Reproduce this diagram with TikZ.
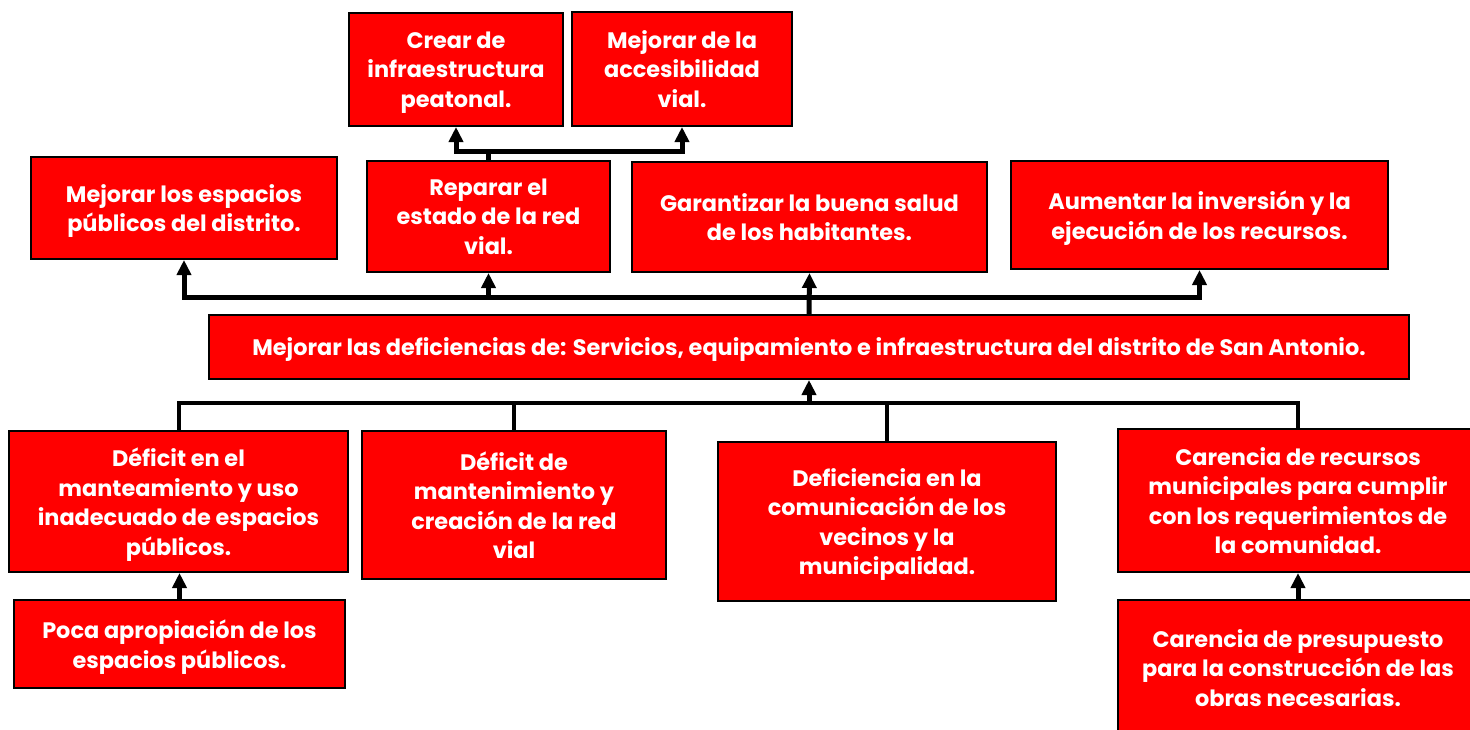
\documentclass[tikz,border=0pt]{standalone}
\usepackage{fontspec}
\setmainfont{Poppins}
\usetikzlibrary{arrows.meta}

\begin{document}
\begin{tikzpicture}[x=1pt,y=-1pt]
    \tikzset{box/.style={draw=black, line width=2pt, fill=red, text=white, align=center,
            font=\fontsize{22.4}{29.5}\selectfont\bfseries, inner sep=0pt, text depth=0pt},
        bus/.style={line width=5pt},
        arr/.style={bus, -{Triangle[width=14pt,length=15pt]}}}

    \useasboundingbox (0,0) rectangle (1470,729);

    % efectos
    \node[box, minimum width=214, minimum height=113] (crear) at (456,69.5) {Crear de\\infraestructura\\peatonal.};
    \node[box, minimum width=220, minimum height=114] (acces) at (682,69) {Mejorar de la\\accesibilidad\\vial.};
    \node[box, minimum width=306, minimum height=102] (espacios) at (184,208) {Mejorar los espacios\\públicos del distrito.};
    \node[box, minimum width=243, minimum height=111] (reparar) at (488.5,216.5) {Reparar el\\estado de la red\\vial.};
    \node[box, minimum width=355, minimum height=110] (salud) at (809.5,217) {Garantizar la buena salud\\de los habitantes.};
    \node[box, minimum width=377, minimum height=108] (inversion) at (1199.5,215) {Aumentar la inversión y la\\ejecución de los recursos.};

    % problema central
    \node[box, minimum width=1200, minimum height=64] (central) at (809,347) {Mejorar las deficiencias de: Servicios, equipamiento e infraestructura del distrito de San Antonio.};

    % causas
    \node[box, minimum width=339, minimum height=141] (manteam) at (178.5,501.5) {Déficit en el\\manteamiento y uso\\inadecuado de espacios\\públicos.};
    \node[box, minimum width=304, minimum height=148] (redvial) at (514,505) {Déficit de\\mantenimiento y\\creación de la red\\vial};
    \node[box, minimum width=338, minimum height=159] (comunic) at (887,521.5) {Deficiencia en la\\comunicación de los\\vecinos y la\\municipalidad.};
    \node[box, minimum width=360, minimum height=143] (recursos) at (1298,500.5) {Carencia de recursos\\municipales para cumplir\\con los requerimientos de\\la comunidad.};
    \node[box, minimum width=331, minimum height=88] (poca) at (179.5,644) {Poca apropiación de los\\espacios públicos.};
    \node[box, minimum width=360, minimum height=136] (presup) at (1298,668) {Carencia de presupuesto\\para la construcción de las\\obras necesarias.};

    \coordinate (topbus) at (809,297);
    \coordinate (lowbus) at (809,403);

    % conectores
    \draw[bus] (reparar.north) -- ++(0,-9) coordinate (vialbus);
    \draw[arr] (vialbus) -| (crear.south);
    \draw[arr] (vialbus) -| (acces.south);

    \draw[arr] (central.north) -- (salud.south);
    \draw[arr] (topbus) -| (espacios.south);
    \draw[arr] (topbus) -| (reparar.south);
    \draw[arr] (topbus) -| (inversion.south);

    \draw[arr] (lowbus) -- (central.south);
    \draw[bus, line width=4pt] (lowbus) -| (manteam.north);
    \draw[bus, line width=4pt] (lowbus) -| (redvial.north);
    \draw[bus, line width=4pt] (lowbus) -| (comunic.north);
    \draw[bus, line width=4pt] (lowbus) -| (recursos.north);

    \draw[arr] (poca.north) -- (poca.north |- manteam.south);
    \draw[arr] (presup.north) -- (recursos.south);
\end{tikzpicture}
\end{document}
